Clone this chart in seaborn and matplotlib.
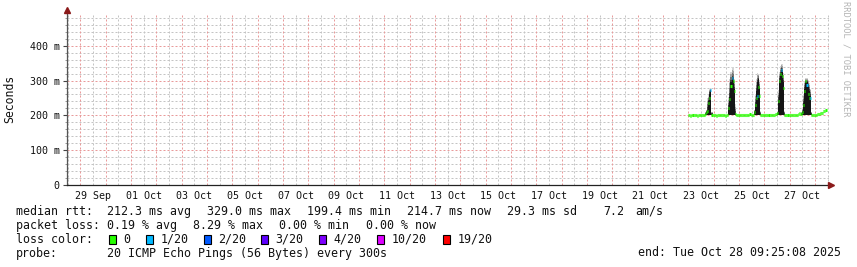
import numpy as np
import pandas as pd
import matplotlib
matplotlib.use("Agg")
import matplotlib.pyplot as plt
import matplotlib.dates as mdates
from matplotlib.patches import Rectangle
import seaborn as sns

# ---------------- data ----------------
series_start = "2025-10-23 00:00"          # first hourly sample
median_ms = [
    200, 200, 199.4, 200, 200, 201, 200, 200, 199.6, 200, 200, 200, 201, 200, 200, 200,
    205, 211, 213, 235, 250, 273, 200,
    200, 200, 200, 199.5, 200, 200, 200, 201, 200, 200, 200, 200, 199.6, 200, 200,
    222, 247, 285, 307, 300, 271, 205,
    200, 200, 200, 200, 200, 199.7, 200, 200, 200, 200, 200, 201, 202, 203, 201, 200, 200,
    210, 229, 249, 257, 281, 257, 200,
    200, 200, 200, 200, 199.8, 200, 200, 200, 200, 200, 200, 201, 202, 204, 203,
    206, 240, 300, 318, 329, 314, 280, 200,
    200, 200, 200, 200, 200, 200, 200, 200, 201, 200, 200, 200, 203, 206, 205,
    204, 210, 230, 270, 300, 286, 260, 249, 249, 200,
    200, 200, 200, 200, 201,
    203, 203, 205, 206, 208, 208, 212, 213, 214.7,
]
loss_hours = [21, 41, 65, 88, 112, 115]
loss_counts = ["1/20", "1/20", "1/20", "1/20", "1/20", "1/20"]

smoke_hours = [16, 17, 18, 19, 20, 21, 22,
               38, 39, 40, 41, 42, 43, 44,
               62, 63, 64, 65, 66, 67, 68,
               84, 85, 86, 87, 88, 89, 90, 91,
               107, 108, 109, 110, 111, 112, 113, 114, 115, 116]
smoke_core_ms = [205, 211, 215, 240, 262, 270, 205,
                 222, 252, 295, 305, 300, 275, 205,
                 210, 232, 270, 295, 305, 280, 205,
                 206, 245, 300, 320, 330, 325, 295, 205,
                 205, 210, 235, 275, 297, 297, 285, 270, 255, 205]
smoke_max_ms = [210, 216, 249, 258, 277, 278, 210,
                252, 305, 325, 340, 338, 305, 232,
                216, 262, 305, 322, 320, 302, 212,
                212, 272, 325, 342, 349, 347, 322, 212,
                210, 222, 262, 298, 308, 306, 302, 292, 277, 210]
smoke_floor_ms = 200.0

x_start = "2025-09-28 11:24"
x_end = "2025-10-28 13:20"
x_tick_labels = ["29 Sep", "01 Oct", "03 Oct", "05 Oct", "07 Oct", "09 Oct", "11 Oct",
                 "13 Oct", "15 Oct", "17 Oct", "19 Oct", "21 Oct", "23 Oct", "25 Oct", "27 Oct"]
y_ticks = [0, 100, 200, 300, 400]
y_tick_labels = ["0", "100 m", "200 m", "300 m", "400 m"]
y_top = 495

loss_levels = ["0", "1/20", "2/20", "3/20", "4/20", "10/20", "19/20"]
loss_colors = ["#26ff00", "#00b8ff", "#0059ff", "#5e00ff", "#7e00ff", "#dd00ff", "#ff0000"]

# ---------------- figure ----------------
sns.set_style("white")
plt.rcParams["font.family"] = ["DejaVu Sans Mono", "DejaVu Sans"]
plt.rcParams["lines.scale_dashes"] = False

W, H = 857, 267
fig = plt.figure(figsize=(W / 100, H / 100), dpi=100)
fig.patch.set_facecolor("white")
ax = fig.add_axes([67 / W, 1 - 185 / H, (829 - 67) / W, (185 - 12.7) / H])
ax.set_facecolor("white")

n = len(median_ms)
t0 = pd.Timestamp(series_start)
times = [t0 + pd.Timedelta(hours=i) for i in range(n + 1)]
tnum = mdates.date2num(times)
hour_w = 1 / 24

xlo = mdates.date2num(pd.Timestamp(x_start))
xhi = mdates.date2num(pd.Timestamp(x_end))
ax.set_xlim(xlo, xhi)
ax.set_ylim(0, y_top)

# grid: 1-px dotted lines (dash lengths in points, 1 px = 0.72 pt)
minor_kw = dict(color="#c4c4c4", lw=0.72, linestyle=(0, (1.44, 1.44)), zorder=0)
major_kw = dict(color="#e99a9a", lw=0.72, linestyle=(0, (1.44, 1.44)), zorder=0.5)
day = pd.Timestamp("2025-09-28")
while day <= pd.Timestamp(x_end):
    for hh, kw in ((0, major_kw), (12, minor_kw)):
        tt = mdates.date2num(day + pd.Timedelta(hours=hh))
        if xlo < tt < xhi:
            ax.axvline(tt, **kw)
    day += pd.Timedelta(days=1)
for v in range(20, y_top, 20):
    ax.axhline(v, **(major_kw if v % 100 == 0 else minor_kw))

# smoke
core = np.array(smoke_core_ms, dtype=float)
smax = np.array(smoke_max_ms, dtype=float)
sx = tnum[np.array(smoke_hours)]
ax.bar(sx, core - smoke_floor_ms, bottom=smoke_floor_ms, width=hour_w, align="edge",
       color="#151515", linewidth=0, zorder=2)
shades = ["#404040", "#737373", "#a5a5a5", "#d5d5d5"]
for k, c in enumerate(shades):
    lo = core + (smax - core) * k / len(shades)
    hi = core + (smax - core) * (k + 1) / len(shades)
    ax.bar(sx, hi - lo, bottom=lo, width=hour_w, align="edge", color=c, linewidth=0, zorder=2)

# median (colored by loss)
loss_per_hour = ["0"] * n
for h, l in zip(loss_hours, loss_counts):
    loss_per_hour[h] = l
rows = []
for i in range(n):
    rows.append((tnum[i], median_ms[i], i, loss_per_hour[i]))
    rows.append((tnum[i + 1], median_ms[i], i, loss_per_hour[i]))
df = pd.DataFrame(rows, columns=["t", "ms", "seg", "loss"])
sns.lineplot(data=df, x="t", y="ms", units="seg", estimator=None, hue="loss",
             hue_order=loss_levels, palette=dict(zip(loss_levels, loss_colors)),
             legend=False, lw=2.2, solid_capstyle="butt", sort=False, ax=ax, zorder=3)

# axes styling
for s in ("top", "right"):
    ax.spines[s].set_visible(False)
ax.spines["left"].set_color("#555555")
ax.spines["left"].set_linewidth(0.9)
ax.spines["bottom"].set_color("#222222")
ax.spines["bottom"].set_linewidth(0.9)
ax.set_xlabel("")
ax.set_ylabel("")

tick_pos = mdates.date2num(pd.date_range("2025-09-29 12:00", periods=len(x_tick_labels), freq="2D"))
ax.set_xticks(tick_pos, x_tick_labels)
ax.tick_params(axis="x", length=0, pad=4, labelsize=7.2, labelcolor="#111111")
ax.set_yticks(y_ticks, y_tick_labels)
ax.set_yticks(list(range(20, y_top, 20)), minor=True)
ax.tick_params(axis="y", which="major", length=3, width=0.8, color="#444444", direction="out",
               pad=2.2, labelsize=7.2, labelcolor="#111111", left=True)
ax.tick_params(axis="y", which="minor", length=1.5, width=0.6, color="#888888", direction="out", left=True)

# arrows
ax.plot([0], [1 + 3 / 172.3], marker="^", ms=5, color="#8b1a1a", transform=ax.transAxes,
        clip_on=False, zorder=5)
ax.plot([1 + 2.5 / 762], [0], marker=">", ms=5, color="#8b1a1a", transform=ax.transAxes,
        clip_on=False, zorder=5)

# labels
def px(x, y):
    return x / W, 1 - y / H

fig.text(*px(10, 99), "Seconds", rotation=90, ha="center", va="center", fontsize=8.3, color="#111111")
fig.text(*px(846, 59), "RRDTOOL / TOBI OETIKER", rotation=270, ha="center", va="center",
         fontsize=6.3, color="#b4b4b4")

fs = 8.35
tc = "#111111"
line1 = [(16, "median rtt:"), (107, "212.3 ms avg"), (207, "329.0 ms max"), (307, "199.4 ms min"),
         (407, "214.7 ms now"), (507, "29.3 ms sd"), (603, "7.2"), (635, "am/s")]
for x, s in line1:
    fig.text(*px(x, 211.5), s, ha="left", va="center", fontsize=fs, color=tc)
line2 = [(16, "packet loss:"), (107, "0.19 % avg"), (193, "8.29 % max"), (279, "0.00 % min"),
         (366, "0.00 % now")]
for x, s in line2:
    fig.text(*px(x, 225.5), s, ha="left", va="center", fontsize=fs, color=tc)
fig.text(*px(16, 239.5), "loss color:", ha="left", va="center", fontsize=fs, color=tc)
box_x = [109, 146, 203.5, 261, 318.5, 377, 443]
for bx, lab, col in zip(box_x, loss_levels, loss_colors):
    fig.add_artist(Rectangle(px(bx, 244), 7 / W, 9 / H, transform=fig.transFigure,
                             facecolor=col, edgecolor="black", linewidth=0.8))
    fig.text(*px(bx + 14.5, 239.5), lab, ha="left", va="center", fontsize=fs, color=tc)
fig.text(*px(16, 253), "probe:", ha="left", va="center", fontsize=fs, color=tc)
fig.text(*px(107, 253), "20 ICMP Echo Pings (56 Bytes) every 300s", ha="left", va="center",
         fontsize=fs, color=tc)
fig.text(*px(638, 253), "end: Tue Oct 28 09:25:08 2025", ha="left", va="center",
         fontsize=fs, color=tc)

fig.savefig("out.png", dpi=100, facecolor="white")
